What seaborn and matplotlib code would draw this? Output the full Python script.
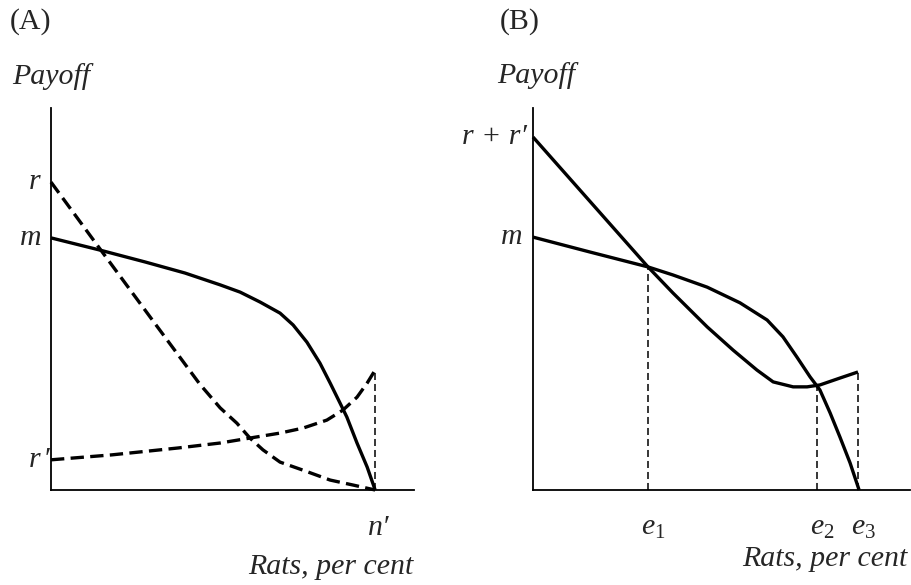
import numpy as np
import pandas as pd
import matplotlib
matplotlib.use("Agg")
import matplotlib.pyplot as plt
import seaborn as sns

# ---------------------------------------------------------
# DATA (axes scaled 0-100)
# ---------------------------------------------------------
# Panel A
a_m_x = [0, 13.5, 25.9, 36.9, 46.6, 52.1, 57.6, 63.1, 66.7, 70.5, 74.1, 76.9,
         79.6, 81.5, 84.3, 87.1, 89.3]
a_m_y = [66.0, 62.8, 59.7, 56.8, 53.7, 51.8, 49.2, 46.3, 43.2, 38.7, 33.2, 28.0,
         22.8, 19.1, 12.3, 6.0, 0]

a_r_x = [0, 13.5, 27.3, 41.0, 46.6, 51.2, 54.8, 58.4, 63.1, 69.4, 76.9, 83.2, 89.3]
a_r_y = [80.6, 63.1, 45.3, 27.7, 21.5, 17.5, 13.6, 10.5, 7.3, 5.2, 2.6, 1.3, 0]

a_rp_x = [0, 16.8, 35.0, 46.6, 54.8, 63.1, 69.4, 76.0, 80.4, 84.3, 87.1, 89.3]
a_rp_y = [7.9, 9.2, 11.0, 12.3, 13.6, 14.9, 16.2, 18.3, 20.9, 24.3, 28.0, 31.4]

a_n_x = 89.3
a_n_top = 31.4

# Panel B
b_rr_x = [0, 30.5, 37.1, 46.2, 53.1, 59.4, 63.7, 69.0, 72.7, 76.1, 81.4, 86.2]
b_rr_y = [92.4, 58.4, 51.6, 42.7, 36.6, 31.4, 28.3, 27.0, 27.0, 27.5, 29.3, 30.9]

b_m_x = [0, 15.1, 30.5, 37.1, 46.2, 54.9, 62.1, 66.3, 70.0, 73.5, 76.1, 78.8,
         81.4, 84.1, 86.5]
b_m_y = [66.2, 62.3, 58.4, 56.3, 53.1, 49.0, 44.5, 40.1, 34.8, 29.6, 26.2, 20.2,
         13.9, 7.1, 0]

b_e_x = [30.5, 75.3, 86.2]
b_e_top = [58.4, 27.4, 30.9]
b_e_labels = ["$e_1$", "$e_2$", "$e_3$"]

# ---------------------------------------------------------
# STYLE
# ---------------------------------------------------------
sns.set_theme(style="white")
plt.rcParams["font.family"] = ["Liberation Serif", "DejaVu Serif"]
plt.rcParams["mathtext.fontset"] = "custom"
plt.rcParams["mathtext.it"] = "Liberation Serif:italic"
plt.rcParams["mathtext.rm"] = "Liberation Serif"

FS = 21.5
LW = 2.4
W, H = 911, 585
THIN_DASH = (0, (4.6, 2.6))

fig = plt.figure(figsize=(9.11, 5.85), dpi=100)

def px_axes(left, right, top, bottom):
    return fig.add_axes([left / W, (H - bottom) / H, (right - left) / W, (bottom - top) / H])

def style_axes(ax):
    ax.set_xlim(0, 100)
    ax.set_ylim(0, 100)
    ax.set_xticks([])
    ax.set_yticks([])
    for s in ["top", "right"]:
        ax.spines[s].set_visible(False)
    for s in ["left", "bottom"]:
        ax.spines[s].set_color("black")
        ax.spines[s].set_linewidth(1.3)
    ax.set_facecolor("none")

def curve(ax, x, y, dashed=False):
    df = pd.DataFrame({"x": x, "y": y})
    kw = dict(color="black", lw=LW, solid_capstyle="butt", solid_joinstyle="round",
              dash_joinstyle="round", clip_on=False)
    if dashed:
        kw["linestyle"] = (0, (4.0, 1.9))
    sns.lineplot(data=df, x="x", y="y", ax=ax, sort=False, estimator=None, **kw)
    ax.set_xlabel("")
    ax.set_ylabel("")

# ---------------------------------------------------------
# PANEL A
# ---------------------------------------------------------
axA = px_axes(51, 414, 108, 490)
style_axes(axA)
curve(axA, a_m_x, a_m_y)
curve(axA, a_r_x, a_r_y, dashed=True)
curve(axA, a_rp_x, a_rp_y, dashed=True)
axA.vlines(a_n_x, 0, a_n_top, color="black", lw=1.1, linestyles=THIN_DASH)

axA.text(-3, a_r_y[0], "r", style="italic", fontsize=FS, ha="right", va="center")
axA.text(-2.5, a_m_y[0], "m", style="italic", fontsize=FS, ha="right", va="center")
axA.text(-0.3, a_rp_y[0], "r\u200a\u2032", style="italic", fontsize=FS, ha="right", va="center")
axA.text(a_n_x + 1, -6.5, "n\u2032", style="italic", fontsize=FS, ha="center", va="top")

fig.text(10 / W, 1 - 22 / H, "(A)", fontsize=FS, ha="left", va="center")
fig.text(12 / W, 1 - 84 / H, "Payoff", style="italic", fontsize=FS, ha="left", va="baseline")
fig.text(413 / W, 1 - 574 / H, "Rats, per cent", style="italic", fontsize=FS,
         ha="right", va="baseline")

# ---------------------------------------------------------
# PANEL B
# ---------------------------------------------------------
axB = px_axes(533, 910, 108, 490)
style_axes(axB)
curve(axB, b_rr_x, b_rr_y)
curve(axB, b_m_x, b_m_y)
axB.vlines(b_e_x, 0, b_e_top, color="black", lw=1.1, linestyles=THIN_DASH)

axB.text(-1.5, b_rr_y[0], "r + r\u2032", style="italic", fontsize=FS, ha="right", va="center")
axB.text(-2.8, b_m_y[0], "m", style="italic", fontsize=FS, ha="right", va="center")
for xe, lab in zip(b_e_x, b_e_labels):
    axB.text(xe + 1.5, -6.5, lab, fontsize=FS, ha="center", va="top")

fig.text(500 / W, 1 - 22 / H, "(B)", fontsize=FS, ha="left", va="center")
fig.text(497 / W, 1 - 83 / H, "Payoff", style="italic", fontsize=FS, ha="left", va="baseline")
fig.text(907 / W, 1 - 566 / H, "Rats, per cent", style="italic", fontsize=FS,
         ha="right", va="baseline")

fig.savefig("out.png", dpi=100, facecolor="white")
